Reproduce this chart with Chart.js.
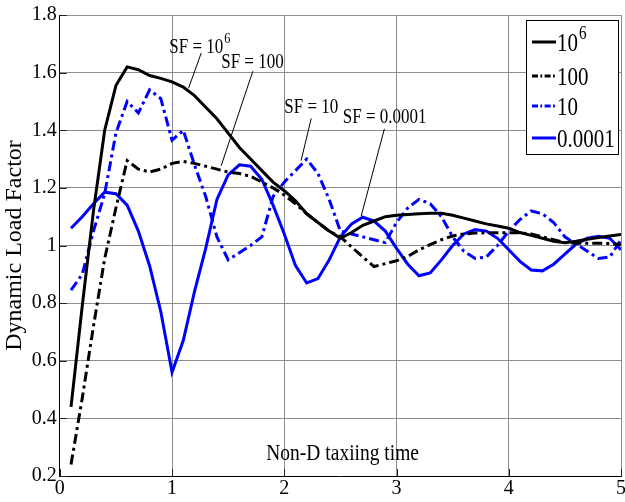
<!DOCTYPE html>
<html>
<head>
<meta charset="utf-8">
<script src="https://cdn.jsdelivr.net/npm/chart.js@4.4.1/dist/chart.umd.min.js"></script>
<style>
  html, body { margin: 0; padding: 0; background: #fff; overflow: hidden; }
</style>
</head>
<body>
<canvas id="chart" width="627" height="502"></canvas>
<script>
// Non-dimensional taxiing time (x) and dynamic load factor per SF (y)
const times = [0.1, 0.2, 0.3, 0.4, 0.5, 0.6, 0.7, 0.8, 0.9, 1.0,
               1.1, 1.2, 1.3, 1.4, 1.5, 1.6, 1.7, 1.8, 1.9, 2.0,
               2.1, 2.2, 2.3, 2.4, 2.5, 2.6, 2.7, 2.8, 2.9, 3.0,
               3.1, 3.2, 3.3, 3.4, 3.5, 3.6, 3.7, 3.8, 3.9, 4.0,
               4.1, 4.2, 4.3, 4.4, 4.5, 4.6, 4.7, 4.8, 4.9, 5.0];

const sf1e6 = [0.44, 0.79, 1.12, 1.40, 1.555, 1.62, 1.61, 1.59, 1.58, 1.568,
               1.55, 1.52, 1.48, 1.44, 1.39, 1.34, 1.30, 1.26, 1.22, 1.19,
               1.155, 1.11, 1.08, 1.05, 1.025, 1.045, 1.07, 1.085, 1.10, 1.105,
               1.108, 1.11, 1.112, 1.112, 1.105, 1.095, 1.085, 1.075, 1.068, 1.06,
               1.045, 1.035, 1.025, 1.015, 1.01, 1.015, 1.022, 1.028, 1.033, 1.038];

const sf100 = [0.24, 0.47, 0.72, 0.955, 1.13, 1.295, 1.265, 1.255, 1.265, 1.285,
               1.292, 1.285, 1.275, 1.265, 1.255, 1.25, 1.24, 1.22, 1.20, 1.175,
               1.145, 1.11, 1.08, 1.05, 1.03, 0.995, 0.96, 0.927, 0.937, 0.947,
               0.962, 0.985, 1.003, 1.02, 1.033, 1.04, 1.043, 1.044, 1.044, 1.044,
               1.044, 1.04, 1.03, 1.02, 1.01, 1.008, 1.008, 1.008, 1.007, 1.003];

const sf10 = [0.845, 0.90, 1.05, 1.18, 1.39, 1.50, 1.46, 1.54, 1.51, 1.365,
              1.40, 1.28, 1.17, 1.03, 0.95, 0.975, 1.00, 1.03, 1.17, 1.22,
              1.26, 1.30, 1.25, 1.16, 1.05, 1.04, 1.03, 1.02, 1.01, 1.08,
              1.13, 1.16, 1.145, 1.10, 1.03, 0.98, 0.955, 0.96, 1.00, 1.05,
              1.09, 1.12, 1.11, 1.08, 1.03, 1.005, 0.98, 0.955, 0.96, 1.02];

const sf00001 = [1.06, 1.10, 1.145, 1.185, 1.18, 1.14, 1.05, 0.93, 0.77, 0.56,
                 0.67, 0.84, 0.99, 1.16, 1.245, 1.28, 1.275, 1.23, 1.14, 1.04,
                 0.93, 0.87, 0.885, 0.95, 1.03, 1.075, 1.098, 1.085, 1.05, 0.99,
                 0.935, 0.895, 0.905, 0.95, 1.00, 1.04, 1.055, 1.05, 1.025, 0.985,
                 0.945, 0.915, 0.912, 0.935, 0.97, 1.005, 1.025, 1.032, 1.025, 0.985];

// legend labels: base text + superscript
const legendBase = ['10', '100', '10', '0.0001'];
const legendSup  = ['6', '', '', ''];

// callout labels: [base, sup, textX, textY, fromX, fromY, toX, toY] in data units
const callouts = [
  ['SF = 10', '6', 0.975, 1.693, 1.26, 1.668, 1.147, 1.546],
  ['SF = 100', '', 1.438, 1.64, 1.72, 1.605, 1.438, 1.277],
  ['SF = 10', '', 2.0, 1.483, 2.24, 1.441, 2.15, 1.295],
  ['SF = 0.0001', '', 2.522, 1.45, 2.892, 1.405, 2.685, 1.102]
];

const FONT = '"Liberation Serif", "Times New Roman", serif';
const BLUE = '#0000ff';
const DASHDOT = [10, 4, 3, 4];

const toPts = arr => times.map((t, i) => ({ x: t, y: arr[i] }));

const styles = [
  { color: '#000', dash: [] },
  { color: '#000', dash: DASHDOT },
  { color: BLUE, dash: DASHDOT },
  { color: BLUE, dash: [] }
];
const series = [sf1e6, sf100, sf10, sf00001];

// text drawn slightly stretched vertically like the original figure
function stretchText(ctx, text, x, y, size, align, base) {
  ctx.save();
  ctx.translate(x, y);
  ctx.scale(1, 1.2);
  ctx.font = size + 'px ' + FONT;
  ctx.textAlign = align || 'left';
  ctx.textBaseline = base || 'alphabetic';
  ctx.fillText(text, 0, 0);
  const w = ctx.measureText(text).width;
  ctx.restore();
  return w;
}

function supText(ctx, base, sup, x, y, size) {
  const w = stretchText(ctx, base, x, y, size);
  if (sup) stretchText(ctx, sup, x + w + 1, y - size * 0.55, size * 0.72);
}

const overlay = {
  id: 'overlay',
  afterDraw(chart) {
    const { ctx, chartArea: a, scales: { x, y } } = chart;
    ctx.save();

    // inward tick marks on bottom and left axes
    ctx.strokeStyle = '#222';
    ctx.lineWidth = 1;
    ctx.beginPath();
    x.ticks.forEach(t => {
      const px = Math.round(x.getPixelForValue(t.value)) + 0.5;
      ctx.moveTo(px, a.bottom);
      ctx.lineTo(px, a.bottom - 7);
    });
    y.ticks.forEach(t => {
      const py = Math.round(y.getPixelForValue(t.value)) + 0.5;
      ctx.moveTo(a.left, py);
      ctx.lineTo(a.left + 7, py);
    });
    ctx.stroke();

    // callouts
    ctx.fillStyle = '#000';
    ctx.strokeStyle = '#000';
    ctx.lineWidth = 1;
    callouts.forEach(c => {
      const tx = x.getPixelForValue(c[2]);
      const ty = y.getPixelForValue(c[3]);
      supText(ctx, c[0], c[1], tx, ty + 7, 17);
      ctx.beginPath();
      ctx.moveTo(x.getPixelForValue(c[4]), y.getPixelForValue(c[5]));
      ctx.lineTo(x.getPixelForValue(c[6]), y.getPixelForValue(c[7]));
      ctx.stroke();
    });

    // axis label inside plot area
    stretchText(ctx, 'Non-D taxiing time', x.getPixelForValue(2.52), a.bottom - 16, 19.5, 'center');

    // legend box
    const lx = a.right - 95, ly = a.top + 5, lw = 92, lh = 134;
    ctx.fillStyle = '#fff';
    ctx.fillRect(lx, ly, lw, lh);
    ctx.strokeStyle = '#000';
    ctx.lineWidth = 1;
    ctx.strokeRect(lx + 0.5, ly + 0.5, lw, lh);
    const rows = [22, 56, 86, 118];
    series.forEach((s, i) => {
      const ry = ly + rows[i];
      ctx.beginPath();
      ctx.strokeStyle = styles[i].color;
      ctx.lineWidth = 3;
      ctx.setLineDash(styles[i].dash.map(d => d * 0.6));
      ctx.moveTo(lx + 6, ry);
      ctx.lineTo(lx + 30, ry);
      ctx.stroke();
      ctx.setLineDash([]);
      ctx.fillStyle = '#000';
      supText(ctx, legendBase[i], legendSup[i], lx + 31, ry + 9, 21);
    });

    ctx.restore();
  }
};

new Chart(document.getElementById('chart'), {
  type: 'line',
  data: {
    datasets: series.map((s, i) => ({
      label: 'SF = ' + legendBase[i] + legendSup[i],
      data: toPts(s),
      borderColor: styles[i].color,
      borderDash: styles[i].dash,
      borderWidth: 3,
      pointRadius: 0,
      tension: 0,
      fill: false
    }))
  },
  options: {
    responsive: false,
    animation: false,
    layout: { padding: { top: 9, right: 0, left: 0, bottom: 0 } },
    plugins: { legend: { display: false }, tooltip: { enabled: false } },
    scales: {
      x: {
        type: 'linear',
        min: 0, max: 5,
        ticks: { stepSize: 1, color: '#000', font: { family: FONT, size: 20 }, padding: 1, maxRotation: 0 },
        grid: { color: '#8c8c8c', lineWidth: 1, drawTicks: false },
        border: { color: '#000', width: 1 }
      },
      y: {
        min: 0.2, max: 1.8,
        ticks: {
          stepSize: 0.2, color: '#000', font: { family: FONT, size: 20 }, padding: 3,
          callback: v => String(Number(v.toFixed(1)))
        },
        grid: { color: '#8c8c8c', lineWidth: 1, drawTicks: false },
        border: { color: '#000', width: 1 },
        title: {
          display: true, text: 'Dynamic Load Factor', color: '#000',
          font: { family: FONT, size: 24 }, padding: { top: 0, bottom: 0 }
        }
      }
    }
  },
  plugins: [overlay]
});
</script>
</body>
</html>
